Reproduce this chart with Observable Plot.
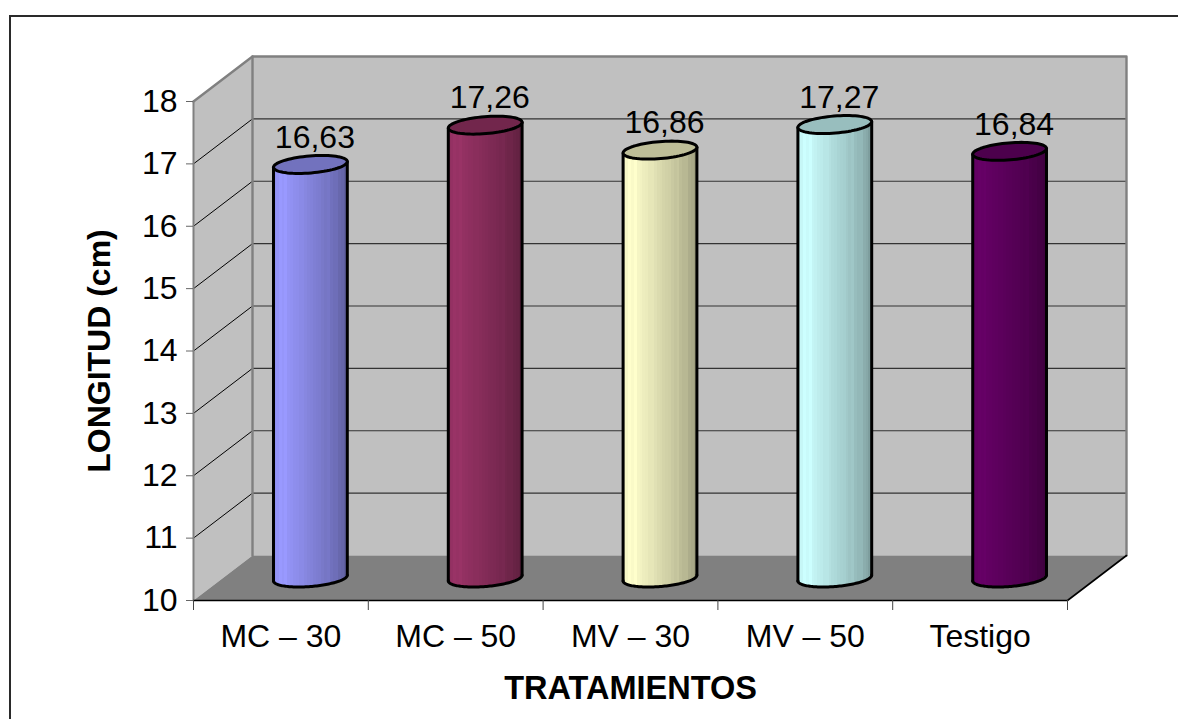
<!DOCTYPE html>
<html lang="es">
<head>
<meta charset="utf-8">
<title>Longitud por tratamiento</title>
<script src="https://cdn.jsdelivr.net/npm/d3@7"></script>
<script src="https://cdn.jsdelivr.net/npm/@observablehq/plot@0.6"></script>
<style>
  html, body { margin: 0; padding: 0; background: #fff; overflow: hidden; }
  #chart-border { position: absolute; left: 9px; top: 15px; right: 0; bottom: 0;
    border-top: 2px solid #2a2a2a; border-left: 2px solid #2a2a2a; }
  #chart { position: absolute; left: 0; top: 0; }
</style>
</head>
<body>
<div id="chart-border"></div>
<div id="chart"></div>
<script>
// Valores del ensayo
const categories = ["MC – 30", "MC – 50", "MV – 30", "MV – 50", "Testigo"];
const lengths = [16.63, 17.26, 16.86, 17.27, 16.84];
const barColors = ["#9999FF", "#993366", "#FFFFCC", "#CCFFFF", "#660066"];
const yTicks = [10, 11, 12, 13, 14, 15, 16, 17, 18];
const xBoundaries = [0, 1, 2, 3, 4, 5];
const yTitle = "LONGITUD (cm)";
const xTitle = "TRATAMIENTOS";

// Brillo de cada franja vertical del cilindro, de izquierda a derecha
const shades = [0.94, 0.97, 1, 0.98, 1, 0.96, 0.95, 0.93, 0.92, 0.9, 0.9, 0.88, 0.86,
                0.85, 0.83, 0.82, 0.81, 0.79, 0.77, 0.78, 0.74, 0.72, 0.72, 0.68, 0.66, 0.62];

// Proyección oblicua: la profundidad 0..1 se traduce en unidades de ambas escalas
const depthX = 59 / 174.8;
const depthY = 45 / 62.38;
const project = (c, v, d = 0) => ({x: c + d * depthX, y: v + d * depthY});

// Cilindro: semiejes de la elipse en unidades de escala
const radiusX = 0.2;
const radiusD = 0.2;
const skewX = radiusD * depthX;
const skewY = radiusD * depthY;
const t0 = Math.atan2(skewX, radiusX);
const reach = Math.hypot(radiusX, skewX);

function ellipsePoint(i, v, t) {
  const c = project(i + 0.5, v, 0.5);
  return {x: c.x + radiusX * Math.cos(t) + skewX * Math.sin(t), y: c.y + skewY * Math.sin(t)};
}
const sweep = (from, to, n = 72) => d3.range(n + 1).map((k) => from + (to - from) * k / n);

// Franjas del cuerpo, limitadas por el arco frontal de la base y de la tapa
function strips(i, v, color) {
  const n = shades.length;
  const c = project(i + 0.5, 10, 0.5);
  return shades.map((shade, k) => {
    const u = -reach + 2 * reach * (k + 0.5) / n;
    const norm = radiusX * radiusX + skewX * skewX;
    const s = (u * skewX - radiusX * Math.sqrt(Math.max(0, norm - u * u))) / norm;
    const rgb = d3.rgb(color);
    return {
      x1: c.x - reach + 2 * reach * k / n,
      x2: c.x - reach + 2 * reach * (k + 1) / n,
      y1: 10 + 0.5 * depthY + skewY * s,
      y2: v + 0.5 * depthY + skewY * s,
      fill: `rgb(${rgb.r * shade},${rgb.g * shade},${rgb.b * shade})`
    };
  });
}

const polygon = (pts, options) => Plot.line(pts, {x: "x", y: "y", ...options});

const floor = [project(0, 10), project(5, 10), project(5, 10, 1), project(0, 10, 1), project(0, 10)];
const backWall = [project(0, 10, 1), project(5, 10, 1), project(5, 18, 1), project(0, 18, 1), project(0, 10, 1)];
const sideWall = [project(0, 10), project(0, 10, 1), project(0, 18, 1), project(0, 18), project(0, 10)];
const gridValues = yTicks.filter((v) => v > 10 && v < 18);

const marks = [
  polygon(backWall, {fill: "#C0C0C0"}),
  polygon(sideWall, {fill: "#C0C0C0"}),
  polygon(floor, {fill: "#808080"}),
  ...gridValues.map((v) => polygon([project(0, v), project(0, v, 1)], {stroke: "#000", strokeWidth: 1})),
  ...gridValues.map((v) => polygon([project(0, v, 1), project(5, v, 1)], {stroke: "#333", strokeWidth: 1.2})),
  polygon([project(0, 18), project(0, 18, 1), project(5, 18, 1), project(5, 10, 1)], {stroke: "#808080", strokeWidth: 2.4}),
  polygon([project(0, 10, 1), project(0, 18, 1)], {stroke: "#808080", strokeWidth: 2.4}),
  polygon([project(0, 10), project(0, 18)], {stroke: "#808080", strokeWidth: 2}),
  polygon([project(0, 10), project(5, 10), project(5, 10, 1)], {stroke: "#000", strokeWidth: 1.6}),
  Plot.axisY({ticks: yTicks, tickSize: 7, tickPadding: 9, fontSize: 32, stroke: "#666", fill: "#000", label: null, tickFormat: (d) => d}),
  Plot.axisX({ticks: xBoundaries, tickSize: 10, tickFormat: () => "", stroke: "#444", label: null})
];

lengths.forEach((v, i) => {
  marks.push(
    Plot.rect(strips(i, v, barColors[i]), {x1: "x1", x2: "x2", y1: "y1", y2: "y2", fill: "fill", shapeRendering: "crispEdges"}),
    polygon(sweep(t0 + Math.PI, 2 * Math.PI + t0).map((t) => ellipsePoint(i, 10, t)), {
      stroke: "#000", strokeWidth: 3, strokeLinejoin: "round"
    }),
    polygon([ellipsePoint(i, 10, t0), ellipsePoint(i, v, t0)], {stroke: "#000", strokeWidth: 3}),
    polygon([ellipsePoint(i, 10, t0 + Math.PI), ellipsePoint(i, v, t0 + Math.PI)], {stroke: "#000", strokeWidth: 3}),
    polygon(sweep(0, 2 * Math.PI).map((t) => ellipsePoint(i, v, t)), {
      fill: d3.rgb(barColors[i]).darker(0.83).formatHex(), stroke: "#000", strokeWidth: 3, strokeLinejoin: "round"
    })
  );
});

marks.push(
  // Etiquetas de valor con coma decimal
  Plot.text(lengths, {
    x: (d, i) => project(i + 0.5, d, 0.5).x,
    y: (d, i) => project(i + 0.5, d, 0.5).y,
    text: (d) => d.toFixed(2).replace(".", ","),
    dx: 4.5, dy: -27, fontSize: 32, fill: "#000"
  }),
  Plot.text(categories, {
    x: (d, i) => i + 0.5, y: () => 10, text: (d) => d, dy: 36, fontSize: 32, fill: "#000"
  }),
  Plot.text([xTitle], {x: () => 2.5, y: () => 10, text: (d) => d, dy: 88, fontSize: 32.5, fontWeight: "bold", fill: "#000"}),
  Plot.text([yTitle], {x: () => 0, y: () => 14, text: (d) => d, dx: -94, rotate: -90, fontSize: 32, fontWeight: "bold", fill: "#000"})
);

const chart = Plot.plot({
  width: 1178,
  height: 719,
  marginLeft: 193,
  marginRight: 111,
  marginTop: 101,
  marginBottom: 119,
  x: {type: "linear", domain: [0, 5], axis: null},
  y: {type: "linear", domain: [10, 18], axis: null},
  style: {fontFamily: "Liberation Sans, Arial, sans-serif", background: "transparent", overflow: "visible"},
  marks
});
document.getElementById("chart").append(chart);
</script>
</body>
</html>
